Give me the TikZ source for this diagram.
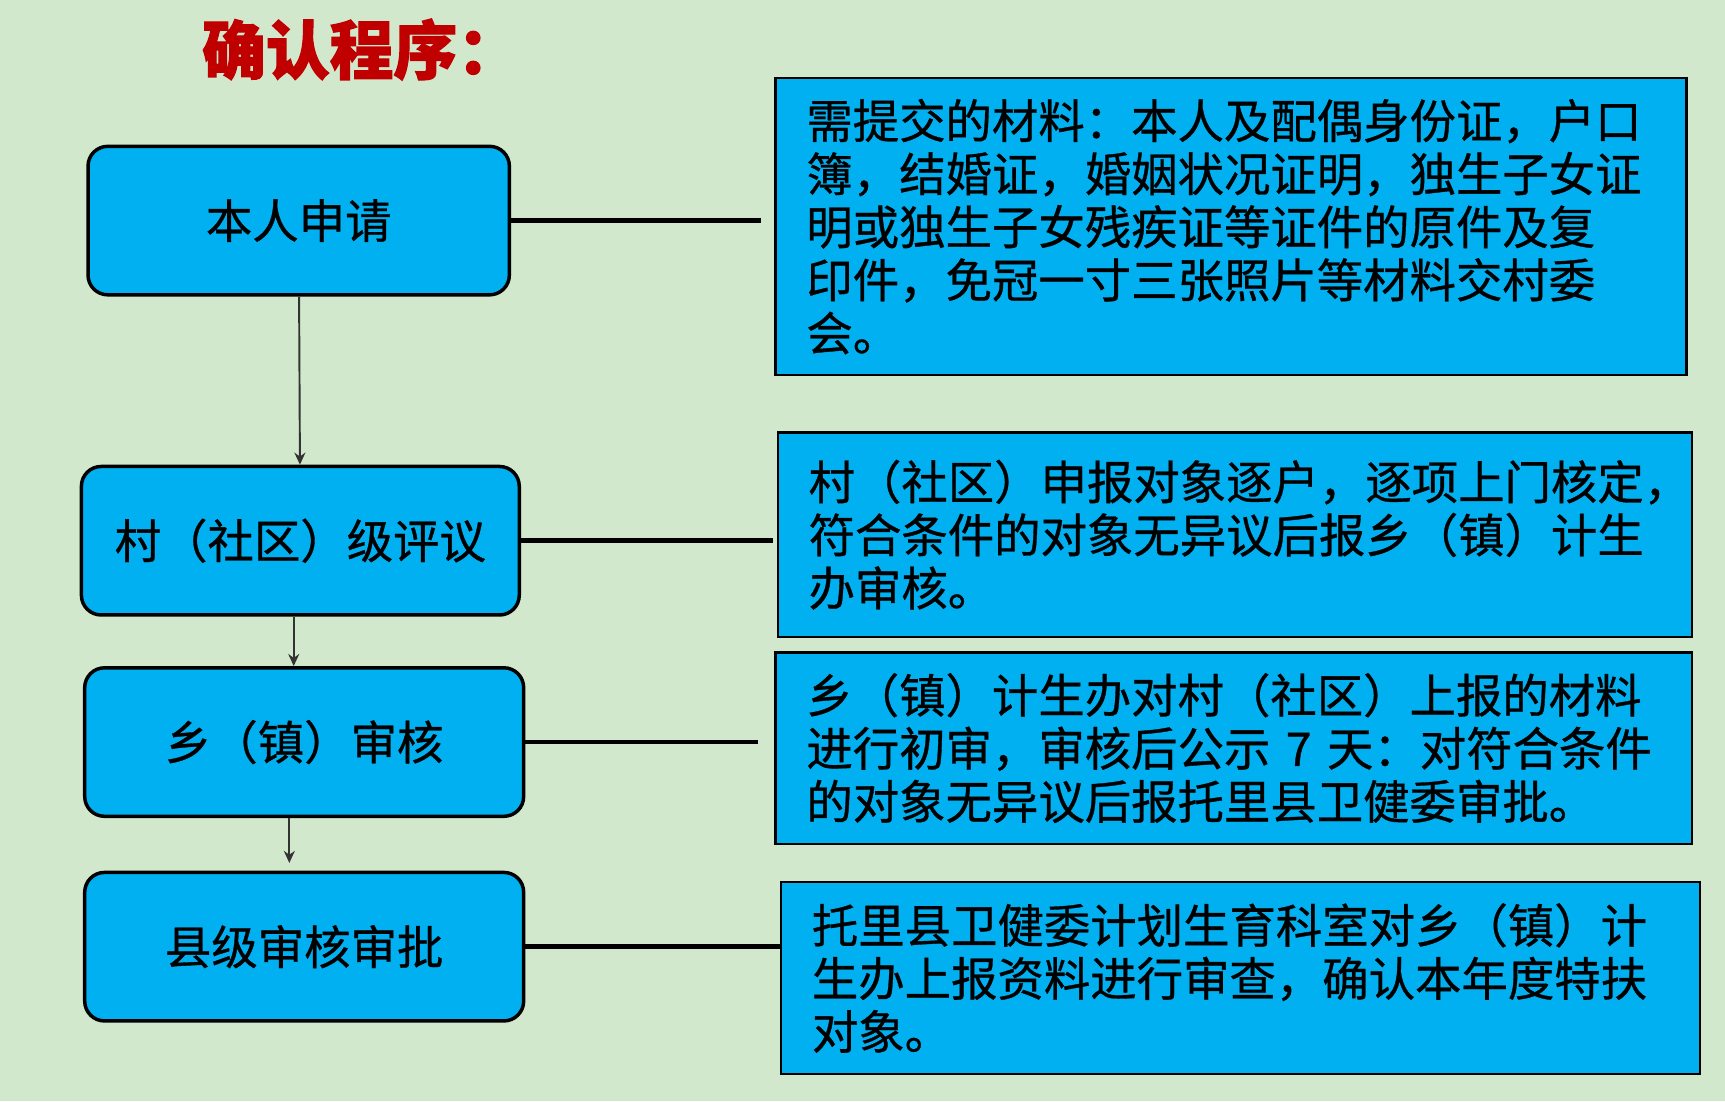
\documentclass[tikz,border=0pt]{standalone}
\usepackage{fontspec}
\newfontfamily\cjk{Noto Sans CJK SC}[FakeBold=0.7, BoldFeatures={FakeBold=1.8}]
\usetikzlibrary{arrows.meta}
\definecolor{bggreen}{HTML}{D1E8CD}
\definecolor{boxblue}{HTML}{00B0F0}
\definecolor{titlered}{HTML}{C00000}
\tikzset{
  stage/.style={draw=black, line width=0.9pt, fill=boxblue, rounded corners=0.18cm, minimum width=#1, minimum height=1.35cm, inner sep=0pt, font=\cjk\fontsize{12}{14}\selectfont},
  note/.style 2 args={draw=black, line width=0.6pt, fill=boxblue, align=left, text width=#1, minimum height=#2, inner xsep=0.28cm, inner ysep=0pt, font=\cjk\fontsize{12}{13.73}\selectfont},
  arrowline/.style={-{Stealth[length=1.1mm,width=1mm]}, line width=0.5pt, black!80},
  joinline/.style={line width=1.2pt, black}
}
\begin{document}
\begin{tikzpicture}
 \useasboundingbox (0,0) rectangle (15.68,-10.01);
 \fill[bggreen] (0,0) rectangle (15.68,-10.01);

 \node[anchor=west, inner sep=0pt, text=titlered, font=\cjk\bfseries\fontsize{16.5}{20}\selectfont] (title) at (1.83,-0.45) {确认程序：};

 \node[stage=3.83cm] (apply) at (2.715,-2.005) {本人申请};
 \node[stage=3.98cm] (village) at (2.73,-4.915) {村（社区）级评议};
 \node[stage=3.99cm] (town) at (2.765,-6.745) {乡（镇）审核};
 \node[stage=3.99cm] (county) at (2.765,-8.605) {县级审核审批};

 \node[note={7.72cm}{2.70cm}] (applyNote) at (11.19,-2.06) {需提交的材料：本人及配偶身份证，户口\\簿，结婚证，婚姻状况证明，独生子女证\\明或独生子女残疾证等证件的原件及复\\印件，免冠一寸三张照片等材料交村委\\会。};
 \node[note={7.75cm}{1.86cm}] (villageNote) at (11.225,-4.86) {村（社区）申报对象逐户，逐项上门核定，\\符合条件的对象无异议后报乡（镇）计生\\办审核。};
 \node[note={7.77cm}{1.74cm}] (townNote) at (11.215,-6.80) {乡（镇）计生办对村（社区）上报的材料\\进行初审，审核后公示 7 天：对符合条件\\的对象无异议后报托里县卫健委审批。};
 \node[note={7.79cm}{1.74cm}] (countyNote) at (11.275,-8.89) {托里县卫健委计划生育科室对乡（镇）计\\生办上报资料进行审查，确认本年度特扶\\对象。};

 \draw[arrowline] (apply) -- (village);
 \draw[arrowline] ([xshift=-0.06cm]village.south) -- ([xshift=-0.06cm]village.south |- town.north);
 \draw[arrowline, shorten >=0.07cm] ([xshift=-0.135cm]town.south) -- ([xshift=-0.135cm]town.south |- county.north);

 \draw[joinline, shorten >=0.12cm] (apply.east) -- (apply.east -| applyNote.west);
 \draw[joinline, shorten >=0.03cm] (village.east) -- (village.east -| villageNote.west);
 \draw[joinline, shorten >=0.15cm] (town.east) -- (town.east -| townNote.west);
 \draw[joinline] (county.east) -- (county.east -| countyNote.west);
\end{tikzpicture}
\end{document}
